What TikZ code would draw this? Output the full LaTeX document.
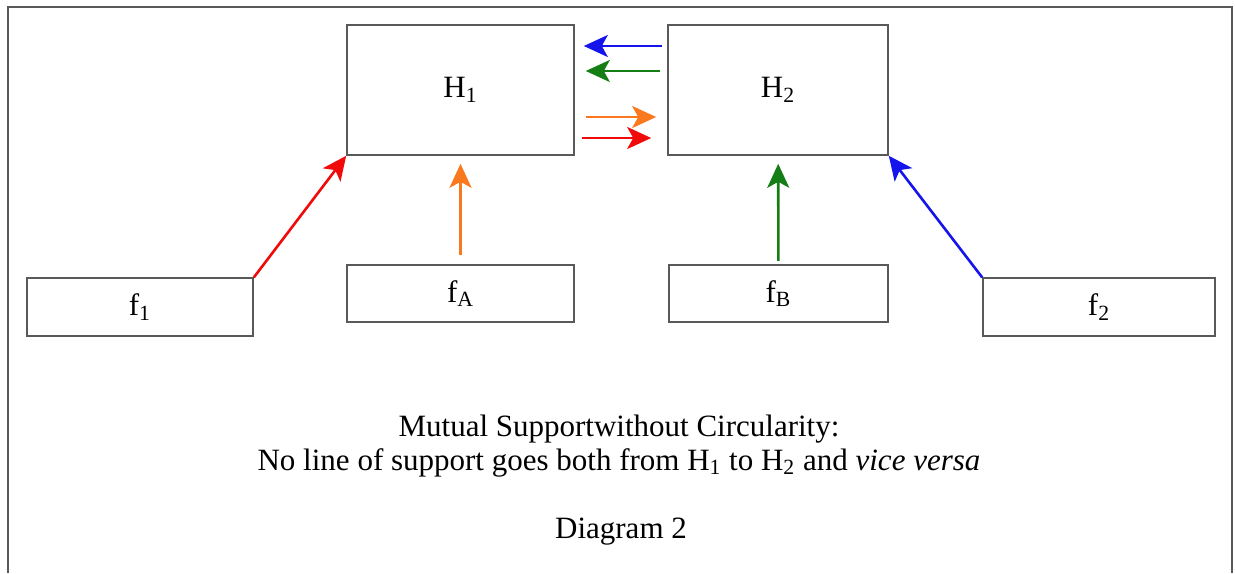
\documentclass[tikz,border=0pt]{standalone}
\usepackage{fontspec}
\setmainfont{Liberation Serif}
\usetikzlibrary{arrows.meta,positioning}

\definecolor{supred}{RGB}{240,10,10}
\definecolor{supblue}{RGB}{20,20,235}
\definecolor{supgreen}{RGB}{20,125,20}
\definecolor{suporange}{RGB}{250,120,30}

\begin{document}
\begin{tikzpicture}[
    x=0.5pt, y=-0.5pt,
    box/.style={rectangle, draw=black!65, line width=0.8pt, inner sep=0pt,
                font=\fontsize{15.5}{17}\selectfont},
    hypbox/.style={box, minimum height=65pt},
    factbox/.style={box, minimum height=28.75pt},
    arrow/.style={-{Stealth[length=12pt,width=11pt,inset=3pt]}, line width=1.3pt}
  ]
    \useasboundingbox (0,0) rectangle (1235,573);
    \draw[black!65, line width=1pt] (8,573) -- (8,7) -- (1232,7) -- (1232,573);

    \node[hypbox, minimum width=113.5pt] (h1) at (460.5,90) {H\textsubscript{1}};
    \node[hypbox, minimum width=110pt] (h2) at (778,90) {H\textsubscript{2}};
    \node[factbox, minimum width=113pt] (f1) at (140,307) {f\textsubscript{1}};
    \node[factbox, minimum width=113.5pt] (fa) at (460.5,293.5) {f\textsubscript{A}};
    \node[factbox, minimum width=109.5pt] (fb) at (778.5,293.5) {f\textsubscript{B}};
    \node[factbox, minimum width=116pt] (f2) at (1099,307) {f\textsubscript{2}};

    % support from the facts
    \draw[arrow, supred] (f1.north east) -- (h1.south west);
    \draw[arrow, supblue] (f2.north west) -- (h2.south east);
    \draw[arrow, suporange, shorten <=4.5pt, shorten >=4pt] (fa) -- (h1);
    \draw[arrow, supgreen, shorten <=1.5pt, shorten >=4pt] (fb) -- (h2);

    % between the hypotheses
    \foreach \c/\dy/\s/\e in {supblue/22/2.5/4.5, supgreen/9.5/3.5/5.5}
      \draw[arrow, \c, shorten <=\s pt, shorten >=\e pt]
        ([yshift=\dy pt]h2.west) -- ([yshift=\dy pt]h1.east);
    \foreach \c/\dy/\s/\e in {suporange/-13.5/5.5/5.5, supred/-24/3.5/8}
      \draw[arrow, \c, shorten <=\s pt, shorten >=\e pt]
        ([yshift=\dy pt]h1.east) -- ([yshift=\dy pt]h2.west);

    \node[align=center, font=\fontsize{15.5}{17}\selectfont] (caption) at (619,446)
      {Mutual Supportwithout Circularity:\\
       No line of support goes both from H\textsubscript{1} to H\textsubscript{2} and \textit{vice versa}};
    \node[font=\fontsize{15.5}{17}\selectfont] (title) at (621,532) {Diagram 2};
\end{tikzpicture}
\end{document}
